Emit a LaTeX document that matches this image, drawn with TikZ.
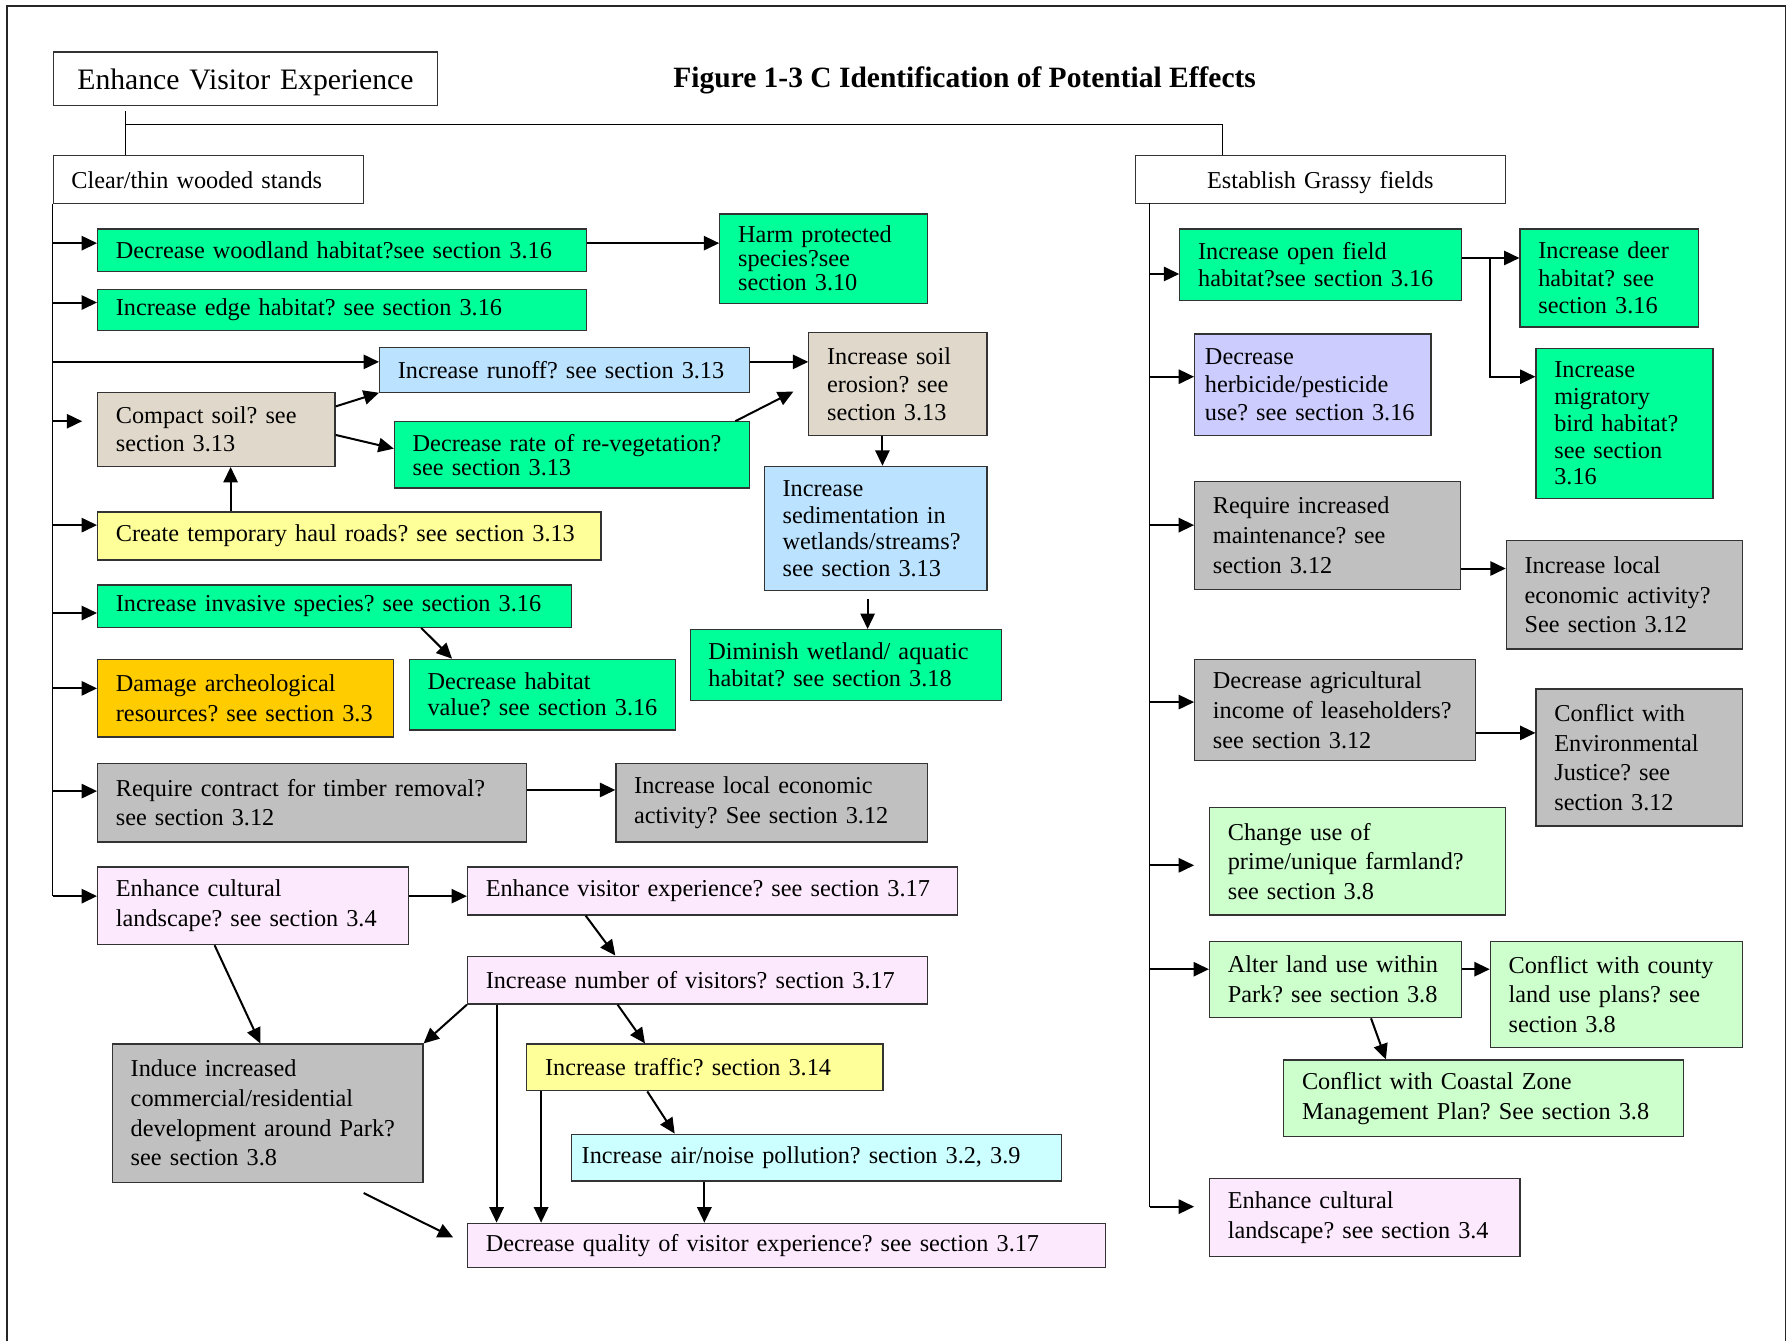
\documentclass[tikz,border=0pt]{standalone}
\usepackage{fontspec}
\setmainfont{Liberation Serif}
\frenchspacing
\usetikzlibrary{arrows.meta}

\definecolor{grn}{RGB}{0,255,153}
\definecolor{lgrn}{RGB}{204,255,204}
\definecolor{lblue}{RGB}{187,227,255}
\definecolor{lcyan}{RGB}{204,255,255}
\definecolor{soiltan}{RGB}{224,216,202}
\definecolor{yel}{RGB}{255,255,153}
\definecolor{amber}{RGB}{255,204,0}
\definecolor{gry}{RGB}{192,192,192}
\definecolor{pnk}{RGB}{253,233,253}
\definecolor{lav}{RGB}{204,204,255}

\begin{document}
\begin{tikzpicture} [x=0.02cm, y=-0.02cm,
    box/.style 2 args={draw=black!80, line width=0.6pt, anchor=north west,
      inner sep=0pt, minimum width=#1*0.02cm, minimum height=#2*0.02cm,
      text width=#1*0.02cm, align=left,
      font=\fontsize{12.1}{14.8}\selectfont,
      execute at begin node={\leftskip=0.32cm}},
    ls/.style={font=\fontsize{12.1}{#1}\selectfont},
    mid/.style={text depth=0pt,
      execute at begin node={\leftskip=0pt plus 1fil\rightskip=0pt plus 1fil\parfillskip=0pt}},
    arr/.style={-{Triangle[length=0.27cm, width=0.25cm]}, line width=1pt},
    link/.style={line width=0.8pt}]

\useasboundingbox (0,0) rectangle (1568,1175);
\draw [line width=0.8pt, black!85] (6,1175) |- (1564,5) -- (1564,1175);

\node (evx) [box={337}{47}, mid, font=\fontsize{14.8}{17}\selectfont] at (46,45) {Enhance Visitor Experience};

\node (title) [anchor=base, font=\fontsize{14.7}{17}\selectfont\bfseries] at (845,77) {Figure 1-3 C Identification of Potential Effects};

\node (clear) [box={272}{42}, text depth=0pt] at (46,136) {Clear/thin wooded stands};

\node (grass) [box={324}{42}, mid] at (994,136) {Establish Grassy fields};

% left side
\node (wood) [box={428}{37}, fill=grn] at (85,200) {Decrease woodland habitat?see section 3.16};

\node (harm) [box={182}{78}, fill=grn, ls=12] at (630,187) {Harm protected\\ species?see\\ section 3.10};

\node (edge) [box={428}{36}, fill=grn] at (85,253) {Increase edge habitat? see section 3.16};

\node (runoff) [box={324}{39}, fill=lblue] at (332,304) {Increase runoff? see section 3.13};

\node (soil) [box={208}{65}, fill=soiltan, ls=13.6] at (85,343) {Compact soil? see\\ section 3.13};

\node (reveg) [box={311}{58}, fill=grn, ls=12] at (345,369) {Decrease rate of re-vegetation?\\ see section 3.13};

\node (erosion) [box={156}{90}, fill=soiltan, ls=14] at (708,291) {Increase soil\\ erosion? see\\ section 3.13};

\node (sediment) [box={195}{109}, fill=lblue, ls=13.2] at (669,408) {Increase\\ sedimentation in\\ wetlands/streams?\\ see section 3.13};

\node (wetland) [box={273}{62}, fill=grn, ls=13.6] at (604,551) {Diminish wetland/ aquatic\\ habitat? see section 3.18};

\node (haul) [box={441}{42}, fill=yel] at (85,448) {Create temporary haul roads? see section 3.13};

\node (invasive) [box={415}{37}, fill=grn] at (85,512) {Increase invasive species? see section 3.16};

\node (habval) [box={233}{62}, fill=grn, ls=13] at (358,577) {Decrease habitat\\ value? see section 3.16};

\node (arch) [box={259}{68}, fill=amber] at (85,577) {Damage archeological\\ resources? see section 3.3};

\node (timber) [box={376}{69}, fill=gry] at (85,668) {Require contract for timber removal?\\ see section 3.12};

\node (econ) [box={273}{69}, fill=gry] at (539,668) {Increase local economic\\ activity? See section 3.12};

\node (cult) [box={272}{68}, fill=pnk] at (85,759) {Enhance cultural\\ landscape? see section 3.4};

\node (visexp) [box={429}{42}, fill=pnk] at (409,759) {Enhance visitor experience? see section 3.17};

\node (visnum) [box={403}{42}, fill=pnk] at (409,837) {Increase number of visitors? section 3.17};

\node (induce) [box={272}{121}, fill=gry] at (98,914) {Induce increased\\ commercial/residential\\ development around Park?\\ see section 3.8};

\node (traffic) [box={312}{41}, fill=yel] at (461,914) {Increase traffic? section 3.14};

\node (air) [box={429}{41}, fill=lcyan, execute at begin node={\leftskip=0.18cm}] at (500,993) {Increase air/noise pollution? section 3.2, 3.9};

\node (quality) [box={559}{39}, fill=pnk] at (409,1071) {Decrease quality of visitor experience? see section 3.17};

% right side
\node (open) [box={247}{63}, fill=grn, ls=13.6] at (1033,200) {Increase open field\\ habitat?see section 3.16};

\node (deer) [box={156}{86}, fill=grn, ls=13.6] at (1331,200) {Increase deer\\ habitat? see\\ section 3.16};

\node (bird) [box={155}{131}, fill=grn, ls=13.3] at (1345,305) {Increase\\ migratory\\ bird habitat?\\ see section\\ 3.16};

\node (herb) [box={207}{89}, fill=lav, ls=14.2, execute at begin node={\leftskip=0.18cm}] at (1046,292) {Decrease\\ herbicide/pesticide\\ use? see section 3.16};

\node (maint) [box={233}{95}, fill=gry] at (1046,421) {Require increased\\ maintenance? see\\ section 3.12};

\node (econr) [box={207}{95}, fill=gry] at (1319,473) {Increase local\\ economic activity?\\ See section 3.12};

\node (agri) [box={246}{89}, fill=gry] at (1046,577) {Decrease agricultural\\ income of leaseholders?\\ see section 3.12};

\node (ejust) [box={181}{120}, fill=gry] at (1345,603) {Conflict with\\ Environmental\\ Justice? see\\ section 3.12};

\node (farm) [box={259}{94}, fill=lgrn] at (1059,707) {Change use of\\ prime/unique farmland?\\ see section 3.8};

\node (landuse) [box={221}{67}, fill=lgrn] at (1059,824) {Alter land use within\\ Park? see section 3.8};

\node (county) [box={221}{93}, fill=lgrn] at (1305,824) {Conflict with county\\ land use plans? see\\ section 3.8};

\node (coastal) [box={350}{67}, fill=lgrn] at (1124,928) {Conflict with Coastal Zone\\ Management Plan? See section 3.8};

\node (cultr) [box={272}{68}, fill=pnk] at (1059,1032) {Enhance cultural\\ landscape? see section 3.4};

% Arrows
\coordinate (fork) at (110,109);
\coordinate (fork2) at (1071,109);
\coordinate (rt) at (1007,178);
\coordinate (split) at (1305,226);
\coordinate (soilin) at (72,369);
\coordinate (farmin) at (1046,758);
\coordinate (cultin) at (1046,1057);

\draw [link] (fork |- evx.south) ++(0,4) -- (fork |- clear.north);
\draw [link] (fork) -- (fork2) -- (fork2 |- grass.north);
\draw [link] (clear.south west) -- (clear.west |- 0,785);
\draw [link] (rt) -- (rt |- 0,1057);

\foreach \n/\y in {wood/213, edge/265, runoff/317, haul/460, invasive/537, arch/603, timber/693, cult/785}
  \draw [arr] (clear.west |- 0,\y) -- (\n.west |- 0,\y);
\draw [arr] (clear.west |- soilin) -- (soilin);

\foreach \n/\y in {open/240, herb/330, maint/460, agri/615, landuse/849}
  \draw [arr] (rt |- 0,\y) -- (\n.west |- 0,\y);
\draw [arr] (rt |- farmin) -- (farmin);
\draw [arr] (rt |- cultin) -- (cultin);

\draw [arr] (wood.east |- 0,213) -- (harm.west |- 0,213);
\draw [arr] (runoff.east |- 0,317) -- (erosion.west |- 0,317);
\draw [arr] (soil.east |- 0,356) -- (runoff.south west);
\draw [arr] (soil.east |- 0,381) -- (reveg.west |- 0,393);
\draw [arr] ([shift={(-13,0)}]reveg.north east) -- ([shift={(-13,52)}]erosion.north west);
\draw [arr] (erosion.south -| 773,0) -- (sediment.north -| 773,0);
\draw [arr] (sediment.south -| 760,0) ++(0,7) -- (wetland.north -| 760,0);
\draw [arr] (haul.north -| 202,0) -- (soil.south -| 202,0);
\draw [arr] (invasive.south -| 369,0) -- (habval.north -| 396,0);
\draw [arr] (timber.east |- 0,692) -- (econ.west |- 0,692);
\draw [arr] (cult.east |- 0,785) -- (visexp.west |- 0,785);
\draw [arr] (visexp.south -| 513,0) -- (visnum.north -| 539,0);
\draw [arr] (cult.south -| 188,0) -- (induce.north -| 228,0);
\draw [arr] (visnum.south west) -- (induce.north east);
\draw [arr] (visnum.south -| 435,0) -- (quality.north -| 435,0);
\draw [arr] (visnum.south -| 541,0) -- (traffic.north -| 565,0);
\draw [arr] (traffic.south -| 474,0) -- (quality.north -| 474,0);
\draw [arr] (traffic.south -| 567,0) -- (air.north -| 591,0);
\draw [arr] (air.south -| 617,0) -- (quality.north -| 617,0);
\draw [arr] (induce.south) ++(84,9) -- ([shift={(-12,-7)}]quality.west);

\draw [arr] (open.east |- 0,226) -- (deer.west |- 0,226);
\draw [arr] (split) |- (bird.west |- 0,330);
\draw [arr] (maint.east |- 0,498) -- (econr.west |- 0,498);
\draw [arr] (agri.east |- 0,642) -- (ejust.west |- 0,642);
\draw [arr] (landuse.east |- 0,849) -- (county.west |- 0,849);
\draw [arr] (landuse.south -| 1201,0) -- (coastal.north -| 1214,0);
\end{tikzpicture}
\end{document}
